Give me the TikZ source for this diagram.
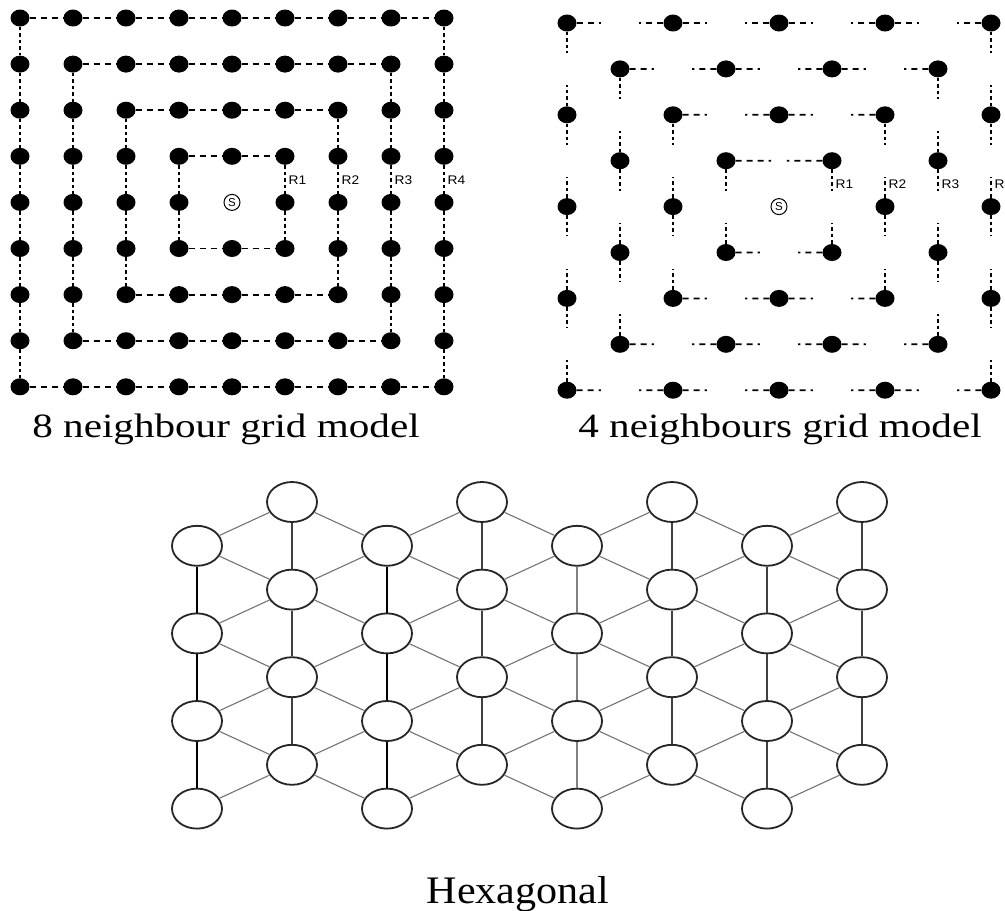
\documentclass[tikz,border=0pt]{standalone}
\usepackage{fontspec}
\setmainfont{Liberation Serif}
\newfontfamily\labfont{Liberation Sans}
\usetikzlibrary{shapes.geometric,calc}
\tikzset{
  dot/.style={ellipse,fill=black,minimum width=19pt,minimum height=17pt,inner sep=0pt},
  hdash/.style={line width=1.8pt,dash pattern=on 6pt off 5pt},
  vdash/.style={line width=1.8pt,dash pattern=on 3.5pt off 3pt},
  rlab/.style={anchor=west,inner sep=0pt,font=\labfont\fontsize{12.5}{13}\selectfont},
  ssym/.style={circle,draw,line width=1pt,minimum size=16pt,inner sep=0pt,font=\labfont\fontsize{11.5}{12}\selectfont},
  hexnode/.style={ellipse,draw=black!85,line width=1.8pt,minimum width=50pt,minimum height=40pt,inner sep=0pt,fill=white},
  hthick/.style={line width=2.8pt,black},
  hmed/.style={line width=1.5pt,black!75},
  hthin/.style={line width=1.2pt,black!50},
  hdiag/.style={line width=1.1pt,black!55},
  captext/.style={anchor=base,inner sep=0pt,font=\fontsize{34}{40}\selectfont},
}
\newcommand\rstub[6]{%
  \pgfmathtruncatemacro\myp{mod(#1+#2,2)}%
  \ifnum\myp=0
    \draw[#5] (B#1-#2) -- ($(Q#1-#2)!#6!(Q#3-#4)$);%
  \else
    \draw[#5] (B#3-#4) -- ($(Q#3-#4)!#6!(Q#1-#2)$);%
  \fi}
\begin{document}
\begin{tikzpicture}[x=1pt,y=-1pt]
\useasboundingbox (0,0) rectangle (1005,911);
% ---------- 8 neighbour grid ----------
\foreach \i in {0,...,8}{\foreach \j in {0,...,8}{
  \pgfmathtruncatemacro\dd{abs(\i-4)+abs(\j-4)}
  \ifnum\dd>0 \node[dot] (A\i-\j) at ({20+53*\i},{18+46.1*\j}) {};\fi
}}
\node[ssym] (AS) at (232,202.4) {S};
\foreach \r in {1,...,4}{
  \pgfmathtruncatemacro\lo{4-\r}\pgfmathtruncatemacro\hi{4+\r}\pgfmathtruncatemacro\him{3+\r}
  \foreach \i in {\lo,...,\him}{
    \pgfmathtruncatemacro\ii{\i+1}
    \draw[hdash] (A\i-\lo) -- (A\ii-\lo);
    \draw[hdash] (A\i-\hi) -- (A\ii-\hi);
    \draw[vdash] (A\lo-\i) -- (A\lo-\ii);
    \draw[vdash] (A\hi-\i) -- (A\hi-\ii);
  }
}
\node[rlab] (LA1) at (288.5,180) {\scalebox{1.1}[1]{R1}};
\node[rlab] (LA2) at (341.5,180) {\scalebox{1.1}[1]{R2}};
\node[rlab] (LA3) at (394.5,180) {\scalebox{1.1}[1]{R3}};
\node[rlab] (LA4) at (447.5,180) {\scalebox{1.1}[1]{R4}};
% ---------- 4 neighbours grid ----------
\foreach \i in {0,...,8}{\foreach \j in {0,...,8}{
  \coordinate (Q\i-\j) at ({567+53*\i},{23+45.9*\j});
  \pgfmathtruncatemacro\dd{abs(\i-4)+abs(\j-4)}
  \pgfmathtruncatemacro\pp{mod(\i+\j,2)}
  \ifnum\dd>0 \ifnum\pp=0 \node[dot] (B\i-\j) at (Q\i-\j) {};\fi\fi
}}
\node[ssym] (BS) at (Q4-4) {S};
\foreach \r in {1,...,4}{
  \pgfmathtruncatemacro\lo{4-\r}\pgfmathtruncatemacro\hi{4+\r}\pgfmathtruncatemacro\him{3+\r}
  \pgfmathsetmacro\ft{\r==1 ? 0.85 : 0.64}
  \foreach \i in {\lo,...,\him}{
    \pgfmathtruncatemacro\ii{\i+1}
    \rstub{\i}{\lo}{\ii}{\lo}{hdash}{\ft}
    \rstub{\i}{\hi}{\ii}{\hi}{hdash}{0.64}
    \rstub{\lo}{\i}{\lo}{\ii}{vdash}{0.65}
    \rstub{\hi}{\i}{\hi}{\ii}{vdash}{0.65}
  }
}
\node[rlab] (LB1) at (835.5,184) {\scalebox{1.1}[1]{R1}};
\node[rlab] (LB2) at (888.5,184) {\scalebox{1.1}[1]{R2}};
\node[rlab] (LB3) at (941.5,184) {\scalebox{1.1}[1]{R3}};
\node[rlab] (LB4) at (994.5,184) {\scalebox{1.1}[1]{R4}};
% ---------- Hexagonal ----------
\foreach \c in {0,...,7}{\foreach \m in {0,...,3}{
  \pgfmathsetmacro\hy{502+43.8*(2*\m+1-mod(\c,2))}
  \node[hexnode] (H\c-\m) at ({197+95*\c},\hy) {};
}}
\foreach \c in {0,...,7}{
  \pgfmathtruncatemacro\sty{\c==0||\c==2 ? 0 : (\c==4 ? 2 : 1)}
  \foreach \m in {0,...,2}{
    \pgfmathtruncatemacro\mn{\m+1}
    \ifcase\sty \draw[hthick] (H\c-\m) -- (H\c-\mn);
    \or \draw[hmed] (H\c-\m) -- (H\c-\mn);
    \or \draw[hthin] (H\c-\m) -- (H\c-\mn);
    \fi
  }
}
\foreach \c in {0,...,6}{
  \pgfmathtruncatemacro\cn{\c+1}
  \foreach \m in {0,...,3}{
    \draw[hdiag] (H\c-\m) -- (H\cn-\m);
    \ifodd\c
      \ifnum\m>0 \pgfmathtruncatemacro\mprev{\m-1}\draw[hdiag] (H\c-\m) -- (H\cn-\mprev);\fi
    \else
      \ifnum\m<3 \pgfmathtruncatemacro\mnext{\m+1}\draw[hdiag] (H\c-\m) -- (H\cn-\mnext);\fi
    \fi
  }
}
% ---------- captions ----------
\node[captext] (C1) at (226,437) {\scalebox{1.21}[1]{8 neighbour grid model}};
\node[captext] (C2) at (780,437) {\scalebox{1.21}[1]{4 neighbours grid model}};
\node[captext,font=\fontsize{39}{45}\selectfont] (C3) at (518,903) {\scalebox{1.08}[1]{Hexagonal}};
\end{tikzpicture}
\end{document}
